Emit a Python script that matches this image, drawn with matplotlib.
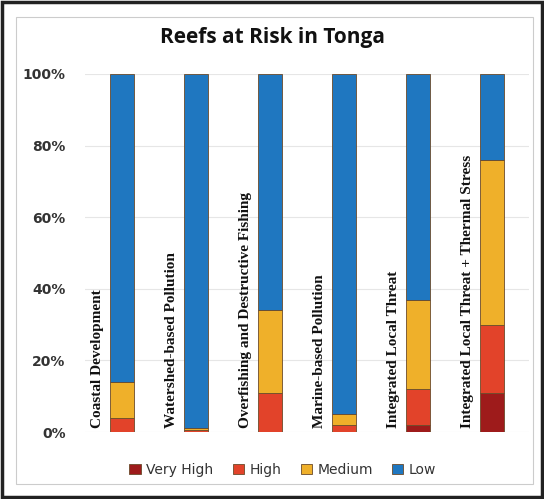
import matplotlib
matplotlib.use("Agg")
import matplotlib.pyplot as plt
import numpy as np

categories = ["Coastal Development", "Watershed-based Pollution",
              "Overfishing and Destructive Fishing", "Marine-based Pollution",
              "Integrated Local Threat", "Integrated Local Threat + Thermal Stress"]
very_high = [0, 0, 0, 0, 2, 11]
high = [4, 0.5, 11, 2, 10, 19]
medium = [10, 0.5, 23, 3, 25, 46]
low = [86, 99, 66, 95, 63, 24]
series_names = ["Very High", "High", "Medium", "Low"]
colors = ["#9e1b1b", "#e2432a", "#efb02a", "#1f77c0"]
yticks = [0, 20, 40, 60, 80, 100]
ytick_labels = ["0%", "20%", "40%", "60%", "80%", "100%"]

fig = plt.figure(figsize=(5.44, 4.99), dpi=100)
fig.patches.append(plt.Rectangle((0.004, 0.004), 0.992, 0.992, transform=fig.transFigure,
                                 fill=False, edgecolor="#222222", linewidth=2.5))
fig.patches.append(plt.Rectangle((0.03, 0.03), 0.95, 0.935, transform=fig.transFigure,
                                 fill=False, edgecolor="#cccccc", linewidth=0.8))

ax = fig.add_axes([85/544, 1-432/499, (529-85)/544, (432-74)/499])
x = np.arange(len(categories))
bottom = np.zeros(len(categories))
for name, vals, c in zip(series_names, [very_high, high, medium, low], colors):
    ax.bar(x, vals, bottom=bottom, width=0.32, color=c, edgecolor="#6b4a2a",
           linewidth=0.6, label=name, zorder=3)
    bottom += np.array(vals)

for xi, lab in zip(x, categories):
    ax.text(xi - 0.33, 1, lab, rotation=90, ha="center", va="bottom",
            family="Liberation Serif", fontweight="bold", fontsize=11, color="#111111")

ax.set_xlim(-0.5, len(categories) - 0.5)
ax.set_ylim(0, 100)
ax.set_yticks(yticks)
ax.set_yticklabels(ytick_labels, fontsize=10, fontweight="bold", color="#333333")
ax.set_xticks([])
ax.yaxis.grid(True, color="#e6e6e6", linewidth=0.8, zorder=0)
ax.tick_params(axis="y", length=0, pad=14)
for s in ax.spines.values():
    s.set_visible(False)

fig.text(272/544, 1-38/499, "Reefs at Risk in Tonga", ha="center", va="center",
         fontsize=15, fontweight="bold", family="Open Sans", color="#111111")

fig.legend(loc="center", bbox_to_anchor=(0.52, 1-470/499), ncol=4, frameon=False,
           fontsize=10, handlelength=0.8, handleheight=0.8, columnspacing=1.4,
           handletextpad=0.4, labelcolor="#333333")

fig.savefig("out.png", dpi=100)
